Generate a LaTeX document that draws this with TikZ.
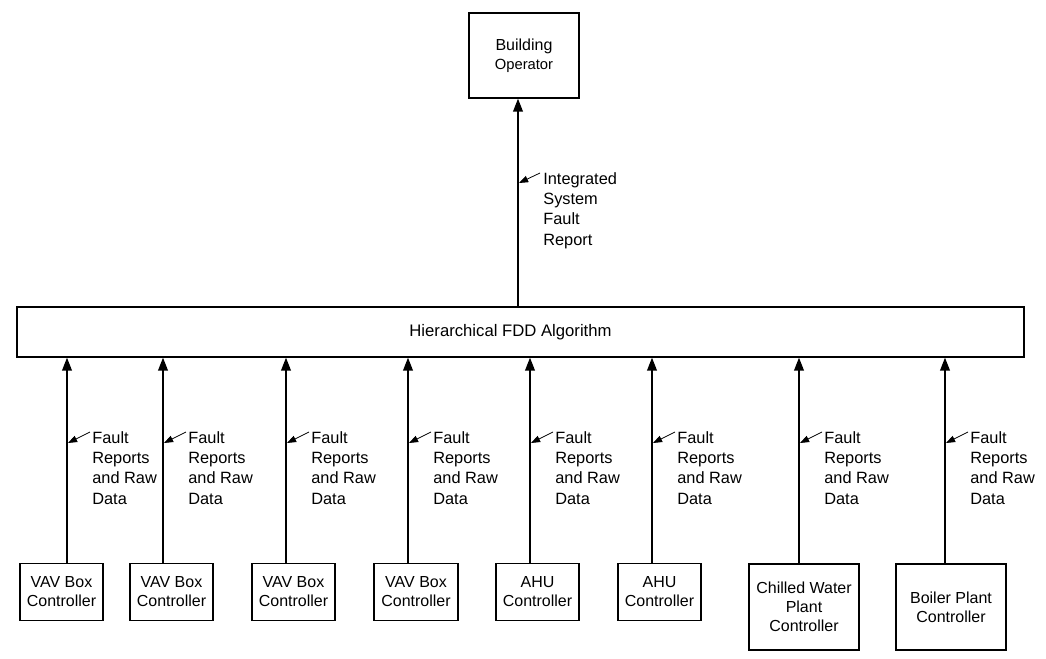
\documentclass[tikz,border=0pt]{standalone}
\usepackage{fontspec}
\setmainfont{Liberation Sans}
\usetikzlibrary{arrows.meta}

\begin{document}
\begin{tikzpicture}[x=0.02cm,y=-0.02cm,
    box/.style={draw,line width=0.8pt,align=center,inner sep=0pt,font=\fontsize{9.1}{10.8}\selectfont},
    flow/.style={line width=0.8pt,-{Triangle[width=5.6pt,length=7.4pt]}},
    leader/.style={line width=0.45pt,-{Triangle[width=3.8pt,length=5.2pt]}},
    note/.style={anchor=north west,align=left,inner sep=0pt,font=\fontsize{9.3}{11.6}\selectfont}]
        \useasboundingbox (0,0) rectangle (1046,659);
        % top and middle
        \node[box,minimum width=2.2cm,minimum height=1.7cm] (oper) at (524,55.5) {Building\\{\fontsize{8.4}{10}\selectfont Operator}};
        \node[box,minimum width=20.14cm,minimum height=1cm,
            label={[font=\fontsize{9.5}{11}\selectfont,xshift=-0.2cm]center:Hierarchical FDD Algorithm}] (fdd) at (520.5,332) {};
        \coordinate (up) at (518,0);
        \draw[flow] (up |- fdd.north) -- (up |- oper.south);
        \node[note] (report) at (543,172) {Integrated\\System\\Fault\\Report};
        \coordinate (upmark) at (519,183);
        \draw[leader] ([shift={(-3,1)}]report.north west) -- (upmark);
        % controllers
        \foreach \n/\cx/\cy/\w/\h/\txt in {c1/61.5/592/1.66/1.14/{VAV Box\\Controller},
            c2/171.5/592/1.66/1.14/{VAV Box\\Controller},
            c3/293.5/592/1.66/1.14/{VAV Box\\Controller},
            c4/416/592/1.68/1.14/{VAV Box\\Controller},
            c5/537.5/592/1.66/1.14/{AHU\\Controller},
            c6/659.5/592/1.66/1.14/{AHU\\Controller},
            c7/804/607/2.2/1.72/{Chilled Water\\Plant\\Controller},
            c8/951/607/2.2/1.72/{Boiler Plant\\Controller}}
            \node[box,minimum width=\w cm,minimum height=\h cm] (\n) at (\cx,\cy) {\txt};
        \foreach \n/\x in {c1/67,c2/163,c3/286,c4/408,c5/530,c6/652,c7/799,c8/945} {
            \coordinate (l\n) at (\x,0);
            \draw[flow] (l\n |- \n.north) -- (l\n |- fdd.south);
            \node[note] (f\n) at (\x+25,431) {Fault\\Reports\\and Raw\\Data};
            \coordinate (m\n) at (\x+1,443);
            \draw[leader] ([shift={(-2,1)}]f\n.north west) -- (m\n);
        }
    \end{tikzpicture}
\end{document}
